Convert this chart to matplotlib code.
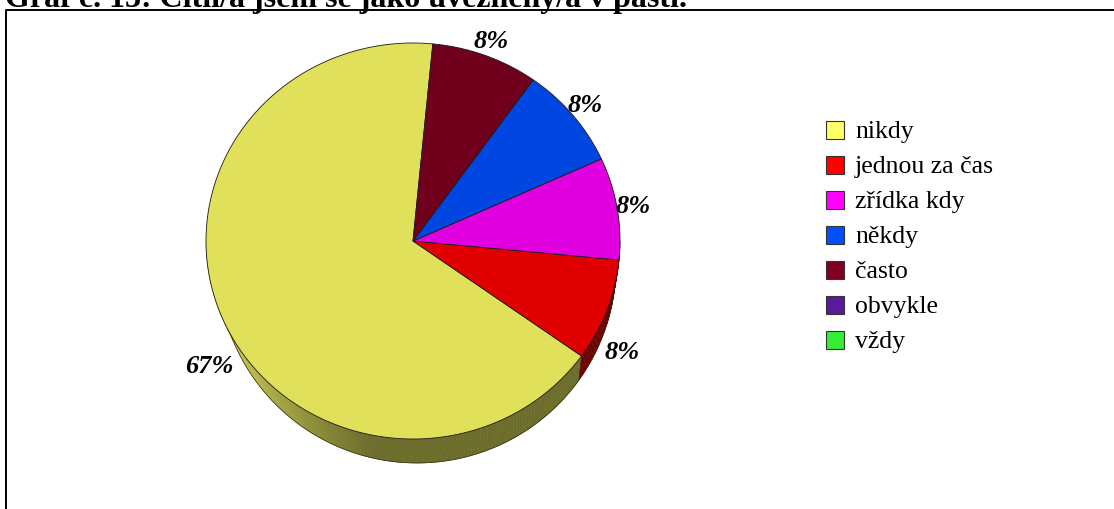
import numpy as np
import matplotlib
matplotlib.use("Agg")
import matplotlib.pyplot as plt
from matplotlib.patches import Polygon, Rectangle
from matplotlib.colors import to_rgb

# Survey answers: "Cítil/a jsem se jako uvězněný/á v pasti."
title = "Graf č. 13: Cítil/a jsem se jako uvězněný/á v pasti."
categories = ["nikdy", "jednou za čas", "zřídka kdy", "někdy", "často", "obvykle", "vždy"]
counts = [8, 1, 1, 1, 1, 0, 0]
colors = ["#ffff66", "#ff0000", "#ff00ff", "#0050ff", "#800020", "#5a1a9a", "#33ee33"]

W, H = 1114, 510
fig = plt.figure(figsize=(W / 100, H / 100), dpi=100)
ax = fig.add_axes([0, 0, 1, 1])
ax.set_xlim(0, W)
ax.set_ylim(H, 0)
ax.axis("off")

SERIF = ["Liberation Serif", "DejaVu Serif"]

# title, partly above the page edge
ax.text(5, 7.5, title, fontsize=23, fontweight="bold", family=SERIF,
        ha="left", va="baseline", clip_on=False)

# frame (open to the right and bottom)
ax.plot([6, 6, W + 5], [H + 5, 11, 11], color="black", lw=1.4, clip_on=True)

# 3D pie geometry
cx, cy = 413, 242
rx, ry = 207, 198
depth = 24
bdx, brx = 4, 199  # bottom rim shifted/shrunk for perspective
start = 84.5

total = float(sum(counts))
spans = [360.0 * c / total for c in counts]
edges = start + np.concatenate([[0], np.cumsum(spans)])


def top_pt(t):
    r = np.radians(t)
    return cx + rx * np.cos(r), cy - ry * np.sin(r)


def bot_pt(t):
    r = np.radians(t)
    return cx + bdx + brx * np.cos(r), cy + depth - ry * np.sin(r)


def shade(t):
    t = t % 360
    return 0.48 + 0.42 * np.clip((258 - t) / 50.0, 0, 1)


def darker(c, f):
    return tuple(np.clip(np.array(to_rgb(c)) * f, 0, 1))


TOP = 0.88

# side walls: visible for angles 180..360
for i, (a0, a1) in enumerate(zip(edges[:-1], edges[1:])):
    if a1 - a0 <= 0:
        continue
    for base in (0, 360, -360):
        lo, hi = max(a0 + base, 180), min(a1 + base, 360)
        if hi <= lo:
            continue
        ts = np.arange(lo, hi, 1.0)
        ts = np.append(ts, hi)
        for t0, t1 in zip(ts[:-1], ts[1:]):
            p = [top_pt(t0), top_pt(t1), bot_pt(t1), bot_pt(t0)]
            fc = darker(colors[i], TOP * shade((t0 + t1) / 2))
            ax.add_patch(Polygon(p, closed=True, facecolor=fc, edgecolor=fc,
                                 lw=0.4, zorder=1))

# bottom outline of the wall
tt = np.linspace(180, 360, 200)
bx, by = zip(*[bot_pt(t) for t in tt])
ax.plot(bx, by, color="#303010", lw=0.5, zorder=1.5)

# top faces
for i, (a0, a1) in enumerate(zip(edges[:-1], edges[1:])):
    if a1 - a0 <= 0:
        continue
    ts = np.linspace(a0, a1, max(int(a1 - a0) * 2, 4))
    pts = [(cx, cy)] + [top_pt(t) for t in ts]
    ax.add_patch(Polygon(pts, closed=True, facecolor=darker(colors[i], TOP),
                         edgecolor="#1a1a1a", lw=0.6, joinstyle="miter",
                         zorder=3))

# percentage labels
for i, (a0, a1) in enumerate(zip(edges[:-1], edges[1:])):
    if counts[i] == 0:
        continue
    m = np.radians((a0 + a1) / 2)
    x = cx + 1.08 * rx * np.cos(m)
    y = cy - 1.08 * ry * np.sin(m)
    if np.sin(m) < 0:
        y += depth + 12
    ax.text(x, y, f"{round(100 * counts[i] / total):d}%", fontsize=19,
            fontweight="bold", fontstyle="italic", family=SERIF,
            ha="center", va="center", zorder=4)

# legend
lx, ly, step, sq = 826, 131, 35, 18
for k, (name, c) in enumerate(zip(categories, colors)):
    y = ly + k * step
    ax.add_patch(Rectangle((lx, y - sq / 2), sq, sq, facecolor=c,
                           edgecolor="#333333", lw=0.8))
    ax.text(lx + 29, y + 1, name, fontsize=18.5, family=SERIF,
            ha="left", va="center")

fig.savefig("out.png", dpi=100)
